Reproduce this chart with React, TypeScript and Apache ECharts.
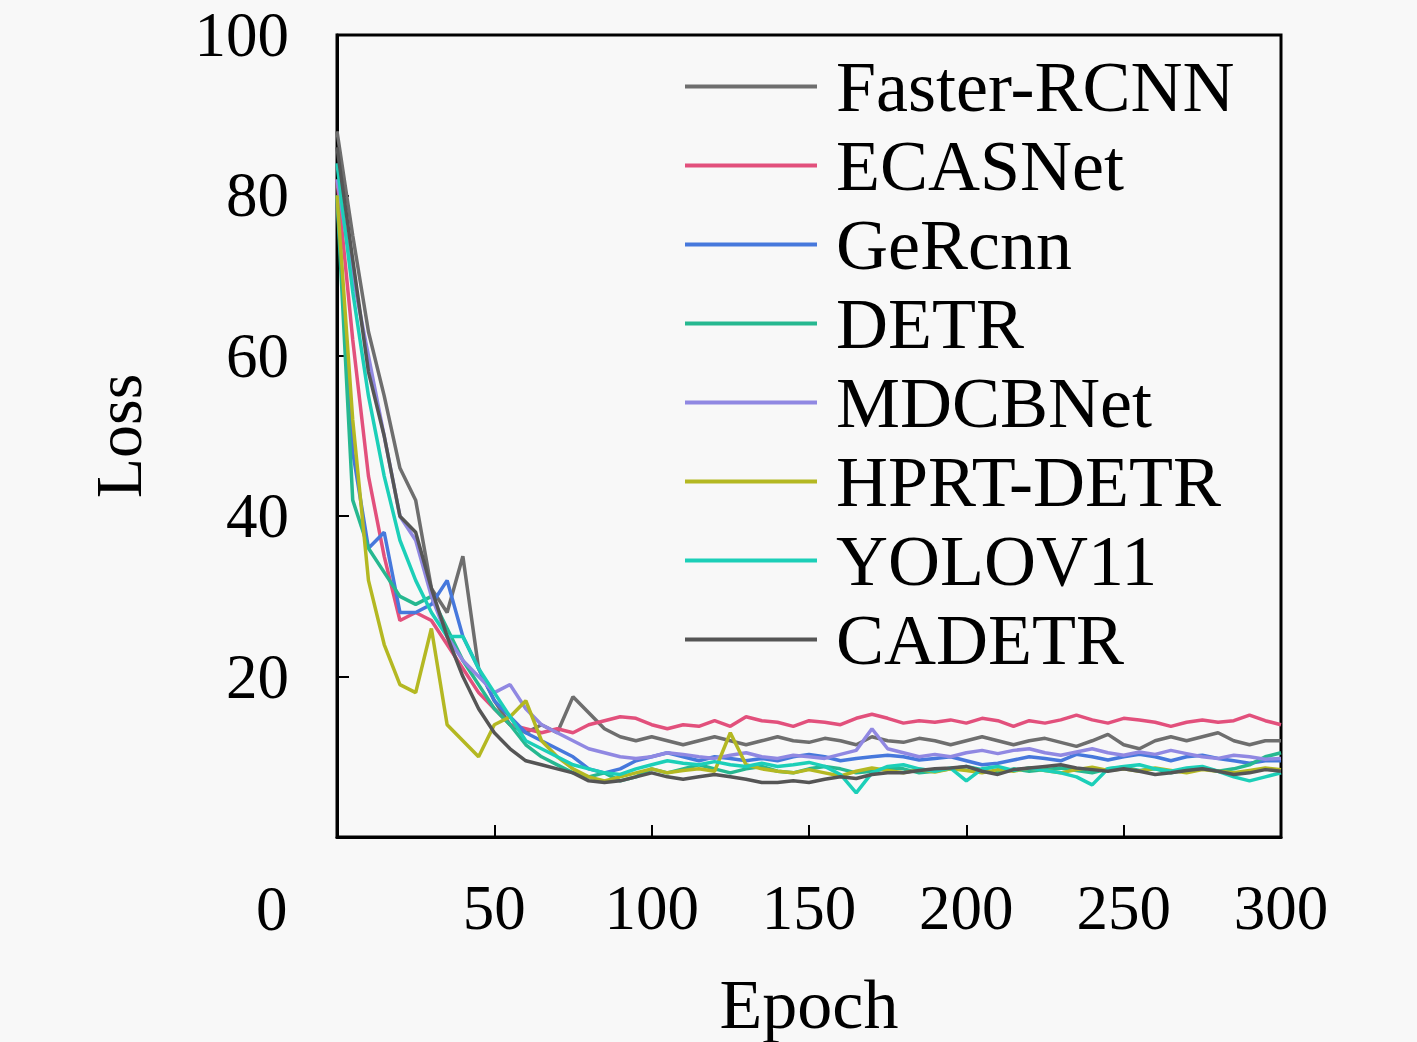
import React, { useEffect, useRef } from "react";
import * as echarts from "echarts";

const EPOCHS = [0,5,10,15,20,25,30,35,40,45,50,55,60,65,70,75,80,85,90,95,100,105,110,115,120,125,130,135,140,145,150,155,160,165,170,175,180,185,190,195,200,205,210,215,220,225,230,235,240,245,250,255,260,265,270,275,280,285,290,295,300];

const SERIES_NAMES = ["Faster-RCNN","ECASNet","GeRcnn","DETR","MDCBNet","HPRT-DETR","YOLOV11","CADETR"];

const FASTER_RCNN = [88,75,63,55,46,42,31,28,35,21, 17,14,13,14,13,17.5,15.5,13.5,12.5,12, 12.5,12,11.5,12,12.5,12,11.5,12,12.5,12, 11.8,12.3,12,11.5,12.5,12,11.8,12.3,12,11.5, 12,12.5,12,11.5,12,12.3,11.8,11.3,12,12.8, 11.5,11,12,12.5,12,12.5,13,12,11.5,12, 12];
const ECASNET = [82,62,45,35,27,28,27,24,21,18, 16,14,13.5,13,13.5,13,14,14.5,15,14.8, 14,13.5,14,13.8,14.5,13.8,15,14.5,14.3,13.8, 14.5,14.3,14,14.8,15.3,14.8,14.2,14.5,14.3,14.6, 14.2,14.8,14.5,13.8,14.5,14.2,14.6,15.2,14.6,14.2, 14.8,14.6,14.3,13.8,14.3,14.6,14.3,14.5,15.2,14.5, 14];
const GERCNN = [80,48,36,38,28,28,29,32,25,21, 17,15,13,12,11,10,8.5,8,8.5,9.5, 10,10.5,10,9.5,10,9.8,9.5,9.8,9.5,10, 10.3,10,9.5,9.8,10,10.2,10,9.6,9.8,10, 9.5,9,9.2,9.6,10,9.8,9.5,10.3,10,9.6, 10,10.3,10,9.5,10,10.2,9.8,9.5,9.2,9.5, 9.5];
const DETR = [80,42,36,33,30,29,30,26,22,19, 16,14,11.5,10,9,8,7.5,8,7,7.5, 8.5,8,8.5,9,8.5,8,8.5,8.8,8.2,8, 8.5,8.8,8.5,8,8.2,8.6,8.5,8,8.2,8.5, 8.8,8.4,8,8.5,8.2,8.4,8.6,8.3,8,8.5, 8.7,8.3,8.5,8,8.4,8.6,8.2,8.5,9,10, 10.5];
const MDCBNET = [82,70,60,50,40,37,30,25,22,20, 18,19,16,14,13,12,11,10.5,10,9.8, 10,10.5,10.3,10,9.8,10.2,10.5,10,9.8,10.2, 10,9.8,10.3,10.8,13.5,11,10.5,10,10.3,10, 10.5,10.8,10.4,10.8,11,10.5,10.2,10.6,11,10.5, 10.2,10.6,10.3,10.8,10.4,10,9.8,10.2,10,9.7, 9.8];
const HPRT_DETR = [80,52,32,24,19,18,26,14,12,10, 14,15,17,12,10,8.5,7.5,7,7.5,8, 8.5,8,8.3,8.5,8.2,13,9,8.5,8.2,8, 8.4,8,7.6,8.2,8.6,8.3,8,8.4,8.1,8.5, 8.3,8,8.4,8.2,8.6,8.3,8,8.4,8.7,8.3, 8.5,8.2,8.6,8.3,8,8.4,8.2,8,8.3,8.6, 8.4];
const YOLOV11 = [84,68,55,45,37,32,28,25,25,21, 18,15,12,11,10,9,8.5,8,7.8,8.5, 9,9.5,9.2,9,9.4,9,8.8,9.2,8.8,9, 9.3,8.8,7.8,5.5,8,8.8,9,8.5,8.2,8.6, 7,8.5,8.8,8.3,8.6,8.3,8,7.5,6.5,8.5, 8.8,9,8.5,8.2,8.6,8.8,8.2,7.5,7,7.5, 8];
const CADETR = [86,72,58,50,40,38,31,25,20,16, 13,11,9.5,9,8.5,8,7,6.8,7,7.5, 8,7.5,7.2,7.5,7.8,7.5,7.2,6.8,6.8,7, 6.8,7.2,7.5,7.3,7.8,8,8,8.3,8.5,8.6, 8.8,8.2,7.8,8.4,8.6,8.8,9,8.6,8.4,8.2, 8.5,8.2,7.8,8,8.3,8.5,8.2,7.8,8,8.4, 8.2];

const SERIES_VALUES = [FASTER_RCNN, ECASNET, GERCNN, DETR, MDCBNET, HPRT_DETR, YOLOV11, CADETR];
const COLORS = ["#6e6e6e","#e2507c","#4678dc","#26b890","#9088e2","#b4b822","#1ccfb8","#555555"];

const X_TICKS = [0,50,100,150,200,250,300];
const Y_TICKS = [0,20,40,60,80,100];

const FONT = '"Liberation Serif", "Times New Roman", serif';

export default function App() {
  const ref = useRef<HTMLDivElement>(null);
  useEffect(() => {
    if (!ref.current) return;
    const chart = echarts.init(ref.current, null, { renderer: "svg" });
    const series = SERIES_NAMES.map((name, i) => ({
      name,
      type: "line",
      data: EPOCHS.map((e, j) => [e, SERIES_VALUES[i][j]]),
      symbol: "none",
      showSymbol: false,
      lineStyle: { color: COLORS[i], width: 3.5 },
      itemStyle: { color: COLORS[i] },
      z: 2,
    }));
    chart.setOption({
      animation: false,
      backgroundColor: "#f8f8f8",
      grid: {
        left: 337,
        right: 136,
        top: 35,
        bottom: 205,
        show: true,
        borderColor: "#000",
        borderWidth: 3,
        backgroundColor: "transparent",
        containLabel: false,
        outerBoundsMode: "none",
      },
      legend: {
        orient: "vertical",
        left: 680,
        top: 42,
        itemWidth: 132,
        itemHeight: 14,
        itemGap: 0,
        icon: "path://M0,5 L132,5 L132,9 L0,9 Z",
        textStyle: {
          fontFamily: FONT,
          fontSize: 72,
          lineHeight: 79,
          color: "#000",
          padding: [0, 0, 0, 14],
        },
        data: SERIES_NAMES.map((n, i) => ({ name: n, itemStyle: { color: COLORS[i] } })),
      },
      xAxis: {
        type: "value",
        min: X_TICKS[0],
        max: X_TICKS[X_TICKS.length - 1],
        interval: 50,
        name: "Epoch",
        nameLocation: "middle",
        nameGap: 132,
        nameTextStyle: { fontFamily: FONT, fontSize: 70, color: "#000" },
        axisLine: { show: true, lineStyle: { color: "#000", width: 3 } },
        axisTick: { show: true, inside: true, length: 12, lineStyle: { color: "#000", width: 2 } },
        axisLabel: {
          fontFamily: FONT,
          fontSize: 63,
          color: "#000",
          margin: 39,
          formatter: (v: number) => (v === 0 ? "" : String(v)),
        },
        splitLine: { show: false },
      },
      yAxis: {
        type: "value",
        min: Y_TICKS[0],
        max: Y_TICKS[Y_TICKS.length - 1],
        interval: 20,
        name: "Loss",
        nameLocation: "middle",
        nameGap: 186,
        nameTextStyle: { fontFamily: FONT, fontSize: 66, color: "#000" },
        axisLine: { show: true, lineStyle: { color: "#000", width: 3 } },
        axisTick: { show: true, inside: true, length: 12, lineStyle: { color: "#000", width: 2 } },
        axisLabel: {
          fontFamily: FONT,
          fontSize: 63,
          color: "#000",
          margin: 48,
          formatter: (v: number) => (v === 0 ? "" : String(v)),
        },
        splitLine: { show: false },
      },
      graphic: [
        {
          type: "text",
          left: 256,
          top: 877,
          style: { text: "0", font: `63px ${FONT}`, fill: "#000" },
        },
      ],
      series,
    });
    return () => chart.dispose();
  }, []);
  return (
    <div
      ref={ref}
      style={{ position: "fixed", left: 0, top: 0, width: 1417, height: 1042, background: "#f8f8f8" }}
    />
  );
}
